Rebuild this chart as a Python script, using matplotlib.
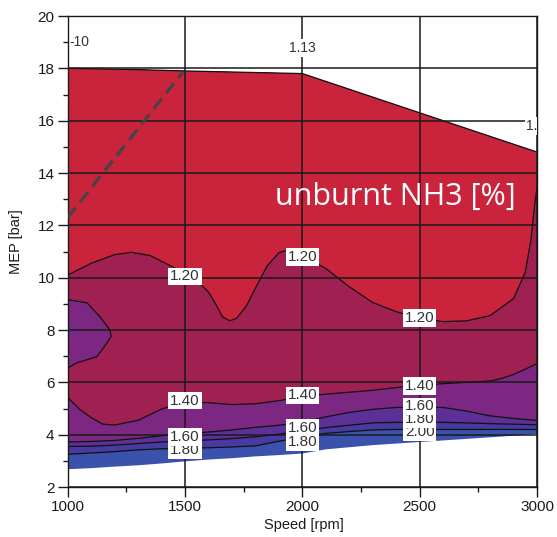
import numpy as np
import matplotlib.pyplot as plt

plt.rcParams['font.family'] = ['Liberation Sans', 'DejaVu Sans']

# ---- envelope of the measured map
speed_top = [1000, 1300, 1500, 2000, 3000]
mep_top = [18.0, 17.95, 17.9, 17.8, 14.8]

speed_bot = [1000, 1100, 1200, 1300, 1400, 1500, 1600, 1700, 1800, 1900, 2000,
             2100, 2200, 2300, 2400, 2500, 2600, 2700, 2800, 2900, 3000]
mep_bot = [2.68, 2.72, 2.78, 2.83, 2.9, 2.98, 3.05, 3.1, 3.17, 3.22, 3.28,
           3.44, 3.52, 3.6, 3.66, 3.72, 3.78, 3.84, 3.9, 3.96, 4.03]

# ---- iso-lines of unburnt NH3 [%]
speed_c = [1000, 1100, 1200, 1300, 1400, 1500, 1600, 1700, 1800, 1900, 2000,
           2100, 2200, 2300, 2400, 2500, 2600, 2700, 2800, 2900, 2950, 3000]
mep_200 = [3.25, 3.3, 3.35, 3.42, 3.46, 3.48, 3.5, 3.53, 3.57, 3.75, 3.9,
           4.05, 4.12, 4.18, 4.2, 4.2, 4.2, 4.2, 4.2, 4.2, 4.2, 4.2]
mep_180 = [3.55, 3.56, 3.6, 3.66, 3.72, 3.76, 3.8, 3.85, 3.92, 4.02, 4.15,
           4.27, 4.36, 4.45, 4.47, 4.48, 4.47, 4.45, 4.42, 4.4, 4.39, 4.38]
mep_160 = [3.72, 3.74, 3.78, 3.86, 3.96, 4.04, 4.1, 4.18, 4.28, 4.36, 4.47,
           4.68, 4.85, 4.97, 5.04, 5.06, 5.04, 4.9, 4.72, 4.62, 4.58, 4.55]

speed_140 = [1000, 1050, 1100, 1150, 1200, 1300, 1400, 1500, 1600, 1700, 1800,
             1900, 2000, 2100, 2200, 2300, 2400, 2500, 2600, 2700, 2800, 2850,
             2900, 2950, 3000]
mep_140 = [5.42, 4.97, 4.65, 4.4, 4.37, 4.55, 4.98, 5.25, 5.22, 5.15, 5.18,
           5.3, 5.45, 5.55, 5.62, 5.7, 5.8, 5.88, 5.95, 6.0, 6.05, 6.15,
           6.3, 6.5, 6.72]

# closed 1.40 pocket at the left border
speed_pocket = [1000, 1082, 1138, 1180, 1185, 1167, 1124, 1040, 1000]
mep_pocket = [9.16, 9.04, 8.5, 8.0, 7.75, 7.5, 6.98, 6.75, 6.55]
speed_dot = [1000, 1015, 1018, 1012, 1000]
mep_dot = [8.3, 8.2, 8.0, 7.8, 7.75]

speed_120 = [1000, 1100, 1200, 1270, 1350, 1450, 1550, 1600, 1630, 1660, 1690,
             1720, 1760, 1800, 1850, 1900, 1950, 2000, 2100, 2200, 2300, 2400,
             2500, 2600, 2700, 2800, 2900, 2950, 2975, 2990, 3000]
mep_120 = [10.1, 10.55, 10.88, 10.97, 10.85, 10.4, 9.9, 9.45, 9.0, 8.5, 8.35,
           8.45, 8.9, 9.6, 10.45, 10.95, 11.1, 10.85, 10.35, 9.65, 9.05, 8.7,
           8.45, 8.32, 8.35, 8.55, 9.2, 10.2, 11.5, 12.8, 13.45]

# dashed limit line
speed_lim = [1000, 1490]
mep_lim = [12.3, 17.85]

# contour labels
lab_text = ['2.00', '1.80', '1.80', '1.80', '1.60', '1.60', '1.60',
            '1.40', '1.40', '1.40', '1.20', '1.20', '1.20']
lab_x = [2500, 1500, 2000, 2500, 1500, 2000, 2500, 1500, 2000, 2500, 1500, 2000, 2500]
lab_y = [4.1, 3.4, 3.72, 4.58, 3.9, 4.27, 5.08, 5.3, 5.5, 5.85, 10.05, 10.8, 8.45]

c_red = '#c9243b'
c_crim = '#a12052'
c_purp = '#7c2782'
c_viol = '#5c3096'
c_indi = '#483aa0'
c_blue = '#3a52ac'

fig = plt.figure(figsize=(5.57, 5.37), dpi=100)
ax = fig.add_axes([0.1216, 0.0931, 0.8425, 0.8771])


def band(xs, ys, color):
    px = np.concatenate([xs, speed_top[::-1]])
    py = np.concatenate([ys, mep_top[::-1]])
    ax.fill(px, py, color=color, lw=0, zorder=1)


band(speed_bot, mep_bot, c_blue)
band(speed_c, mep_200, c_indi)
band(speed_c, mep_180, c_viol)
band(speed_c, mep_160, c_purp)
band(speed_140, mep_140, c_crim)
ax.fill(speed_pocket, mep_pocket, color=c_purp, lw=0, zorder=1)
ax.fill(speed_dot, mep_dot, color=c_viol, lw=0, zorder=1)
band(speed_120, mep_120, c_red)

for xs, ys in [(speed_c, mep_200), (speed_c, mep_180), (speed_c, mep_160),
               (speed_140, mep_140), (speed_pocket, mep_pocket),
               (speed_120, mep_120), (speed_top, mep_top)]:
    ax.plot(xs, ys, color='#111111', lw=0.9, zorder=2)

ax.plot(speed_lim, mep_lim, color='#444444', lw=2.3, dashes=(4, 2.2), zorder=4)

for s, x, y in zip(lab_text, lab_x, lab_y):
    ax.text(x, y, s, ha='center', va='center', fontsize=11, color='#333333',
            zorder=5, bbox=dict(boxstyle='square,pad=0.12', fc='white', ec='none'))

ax.text(1005, 19.0, '-10', ha='left', va='center', fontsize=10, color='#333333', zorder=5)
ax.text(2000, 18.78, '1.13', ha='center', va='center', fontsize=10, color='#333333',
        zorder=5, bbox=dict(boxstyle='square,pad=0.12', fc='white', ec='none'))
ax.text(2955, 15.8, '1.10', ha='left', va='center', fontsize=10, color='#333333',
        zorder=5, clip_on=True,
        bbox=dict(boxstyle='square,pad=0.12', fc='white', ec='none'))

ax.text(1885, 13.1, 'unburnt NH3 [%]', ha='left', va='center', fontsize=22,
        color='white', family='Open Sans', zorder=6)

ax.set_xlim(1000, 3000)
ax.set_ylim(2, 20)
ax.set_xticks(np.arange(1000, 3001, 500))
ax.set_xticks(np.arange(1250, 3000, 500), minor=True)
ax.set_yticks(np.arange(2, 21, 2))
ax.set_yticks(np.arange(3, 20, 2), minor=True)
ax.set_axisbelow(False)
ax.grid(True, which='major', color='#1a1a1a', lw=1.1)
ax.tick_params(which='major', direction='out', length=7, width=1, pad=2.5,
               labelsize=11, colors='#1a1a1a')
ax.tick_params(which='minor', direction='out', length=3.6, width=1, colors='#1a1a1a')
for sp in ax.spines.values():
    sp.set_color('#1a1a1a')
    sp.set_linewidth(1)

ax.set_xlabel('Speed [rpm]', fontsize=10.5, color='#1a1a1a')
ax.set_ylabel('MEP [bar]', fontsize=10.5, color='#1a1a1a')
ax.xaxis.set_label_coords(0.503, -0.066)
ax.yaxis.set_label_coords(-0.095, 0.52)
ax.xaxis.label.set_va('top')

fig.savefig('out.png', dpi=100)
